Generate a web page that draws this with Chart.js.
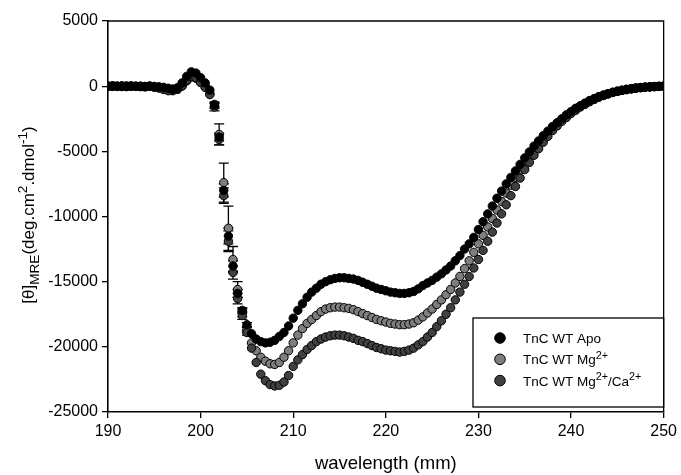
<!DOCTYPE html>
<html>
<head>
<meta charset="utf-8">
<script src="https://cdn.jsdelivr.net/npm/chart.js@4.4.1/dist/chart.umd.min.js"></script>
<style>
  html, body { margin: 0; padding: 0; background: #fff; }
  #wrap { position: relative; width: 681px; height: 475px; }
</style>
</head>
<body>
<div id="wrap"><canvas id="cd"></canvas></div>
<script>
// wavelength (nm), 0.5 nm steps
const wavelength = [
  190, 190.5, 191, 191.5, 192, 192.5, 193, 193.5, 194, 194.5, 195, 195.5, 196, 196.5, 197, 197.5,
  198, 198.5, 199, 199.5, 200, 200.5, 201, 201.5, 202, 202.5, 203, 203.5, 204, 204.5, 205, 205.5,
  206, 206.5, 207, 207.5, 208, 208.5, 209, 209.5, 210, 210.5, 211, 211.5, 212, 212.5, 213, 213.5,
  214, 214.5, 215, 215.5, 216, 216.5, 217, 217.5, 218, 218.5, 219, 219.5, 220, 220.5, 221, 221.5,
  222, 222.5, 223, 223.5, 224, 224.5, 225, 225.5, 226, 226.5, 227, 227.5, 228, 228.5, 229, 229.5,
  230, 230.5, 231, 231.5, 232, 232.5, 233, 233.5, 234, 234.5, 235, 235.5, 236, 236.5, 237, 237.5,
  238, 238.5, 239, 239.5, 240, 240.5, 241, 241.5, 242, 242.5, 243, 243.5, 244, 244.5, 245, 245.5,
  246, 246.5, 247, 247.5, 248, 248.5, 249, 249.5, 250
];

const apo = [
  0, 30, -20, 10, -30, 20, -10, 0, -40, 10, -20, -50, -90, -160, -220, -120,
  250, 750, 1100, 1000, 650, 250, -300, -1400, -3900, -8000, -11500, -13800, -15900, -17200, -18300, -19000,
  -19400, -19600, -19700, -19650, -19500, -19200, -18900, -18400, -17800, -17200, -16700, -16200, -15800, -15500, -15200, -15000,
  -14850, -14750, -14700, -14700, -14750, -14800, -14900, -15050, -15200, -15350, -15500, -15600, -15700, -15800, -15850, -15900,
  -15900, -15850, -15750, -15550, -15300, -15100, -14900, -14650, -14400, -14100, -13800, -13400, -13000, -12500, -12100, -11600,
  -11000, -10400, -9800, -9200, -8600, -8050, -7500, -7000, -6500, -6000, -5500, -5050, -4600, -4200, -3800, -3450,
  -3100, -2800, -2500, -2200, -1950, -1700, -1500, -1300, -1100, -950, -800, -680, -570, -480, -400, -330,
  -270, -210, -160, -120, -90, -60, -40, -20, 0
];

const mg = [
  -20, 10, 0, -30, 20, -10, 0, -40, -20, 0, -60, -100, -180, -280, -350, -250,
  0, 400, 700, 600, 300, -50, -600, -1600, -3700, -7400, -10900, -13300, -15600, -17400, -18700, -19700,
  -20300, -20800, -21100, -21300, -21350, -21200, -20800, -20300, -19700, -19100, -18600, -18200, -17900, -17600, -17300, -17100,
  -17000, -16950, -16950, -17000, -17050, -17150, -17300, -17450, -17600, -17750, -17900, -18000, -18100, -18200, -18250, -18300,
  -18300, -18250, -18150, -17950, -17700, -17400, -17100, -16750, -16400, -16000, -15600, -15100, -14600, -14000, -13400, -12750,
  -12100, -11450, -10800, -10150, -9500, -8850, -8200, -7600, -7000, -6450, -5900, -5400, -4900, -4450, -4000, -3600,
  -3200, -2900, -2600, -2300, -2000, -1750, -1550, -1350, -1150, -980, -820, -690, -570, -470, -380, -310,
  -240, -190, -140, -100, -70, -45, -25, -10, 0
];

const mgCa = [
  10, -20, 0, 20, -30, 0, -20, -10, -50, -20, -80, -150, -250, -350, -300, -200,
  50, 450, 750, 650, 300, -100, -650, -1500, -4100, -8400, -11900, -14300, -16300, -17600, -18900, -20100,
  -21200, -22100, -22600, -22900, -23000, -22950, -22700, -22200, -21500, -21000, -20600, -20200, -19900, -19600, -19400, -19250,
  -19150, -19100, -19100, -19150, -19250, -19350, -19500, -19600, -19750, -19900, -20050, -20150, -20250, -20300, -20350, -20400,
  -20350, -20250, -20100, -19850, -19600, -19250, -18900, -18450, -18000, -17500, -17000, -16400, -15800, -15200, -14600, -13950,
  -13300, -12600, -11900, -11200, -10500, -9800, -9100, -8400, -7700, -7050, -6400, -5850, -5300, -4800, -4300, -3850,
  -3400, -3050, -2700, -2400, -2100, -1850, -1600, -1400, -1200, -1020, -850, -720, -600, -490, -400, -320,
  -250, -195, -150, -110, -80, -50, -30, -15, 0
];

// standard deviations, only where the original shows error bars
const errWave  = [201.5, 202, 202.5, 203, 203.5, 204, 204.5, 205];
const errApo   = [200, 300, 500, 600, 400, 300, 200, 150];
const errMg    = [300, 800, 1500, 1700, 1000, 600, 300, 200];
const errMgCa  = [200, 400, 600, 800, 500, 400, 300, 200];

const xTicks = [190, 200, 210, 220, 230, 240, 250];
const yTicks = [5000, 0, -5000, -10000, -15000, -20000, -25000];

const FONT = '"Liberation Sans", Arial, sans-serif';

const series = [
  { label: 'TnC WT Apo', parts: [['TnC WT Apo', 0]], values: apo, err: errApo, fill: '#000000', order: 0 },
  { label: 'TnC WT Mg2+', parts: [['TnC WT Mg', 0], ['2+', 1]], values: mg, err: errMg, fill: '#7e7e7e', order: 2 },
  { label: 'TnC WT Mg2+/Ca2+', parts: [['TnC WT Mg', 0], ['2+', 1], ['/Ca', 0], ['2+', 1]], values: mgCa, err: errMgCa, fill: '#404040', order: 1 },
];

// runs of normal(0) / superscript(1) / subscript(-1) text
function drawRuns(ctx, parts, x, y, size, k) {
  let cx = x;
  parts.forEach(function ([txt, mode]) {
    const s = mode === 0 ? size : size * k;
    ctx.font = s + 'px ' + FONT;
    const dy = mode === 1 ? -size * 0.42 : (mode === -1 ? size * 0.3 : 0);
    ctx.fillText(txt, cx, y + dy);
    cx += ctx.measureText(txt).width;
  });
  return cx - x;
}
function runsWidth(ctx, parts, size, k) {
  let w = 0;
  parts.forEach(function ([txt, mode]) {
    ctx.font = (mode === 0 ? size : size * k) + 'px ' + FONT;
    w += ctx.measureText(txt).width;
  });
  return w;
}

const errorBars = {
  id: 'errorBars',
  beforeDatasetsDraw(chart) {
    const { ctx, scales: { x, y } } = chart;
    ctx.save();
    ctx.strokeStyle = '#000';
    ctx.lineWidth = 1.3;
    series.forEach(function (s) {
      errWave.forEach(function (w, i) {
        const k = wavelength.indexOf(w);
        if (k < 0) return;
        const px = x.getPixelForValue(w);
        const top = y.getPixelForValue(s.values[k] + s.err[i]);
        const bot = y.getPixelForValue(s.values[k] - s.err[i]);
        ctx.beginPath();
        ctx.moveTo(px, top); ctx.lineTo(px, bot);
        ctx.moveTo(px - 5, top); ctx.lineTo(px + 5, top);
        ctx.moveTo(px - 5, bot); ctx.lineTo(px + 5, bot);
        ctx.stroke();
      });
    });
    ctx.restore();
  },
};

const decor = {
  id: 'decor',
  afterDraw(chart) {
    const { ctx, chartArea: a } = chart;
    ctx.save();
    // frame top/right
    ctx.strokeStyle = '#000';
    ctx.lineWidth = 1.3;
    ctx.beginPath();
    ctx.moveTo(a.left, a.top); ctx.lineTo(a.right, a.top); ctx.lineTo(a.right, a.bottom);
    ctx.stroke();

    ctx.fillStyle = '#000';
    ctx.textBaseline = 'alphabetic';
    // x title
    ctx.font = '18.5px ' + FONT;
    ctx.textAlign = 'center';
    ctx.fillText('wavelength (mm)', (a.left + a.right) / 2, 469);

    // y title (rotated)
    ctx.textAlign = 'left';
    const yParts = [['[\u03B8]', 0], ['MRE', -1], ['(deg.cm', 0], ['2', 1], ['.dmol', 0], ['-1', 1], [')', 0]];
    const size = 17;
    const w = runsWidth(ctx, yParts, size, 0.8);
    ctx.translate(34, 215);
    ctx.rotate(-Math.PI / 2);
    drawRuns(ctx, yParts, -w / 2, 0, size, 0.8);
    ctx.setTransform(1, 0, 0, 1, 0, 0);

    // legend
    const lx = 473, ly = 318, lw = a.right - 473, lh = 89;
    ctx.fillStyle = '#fff';
    ctx.fillRect(lx, ly, lw, lh);
    ctx.strokeStyle = '#000';
    ctx.lineWidth = 1.3;
    ctx.strokeRect(lx, ly, lw, lh);
    series.forEach(function (s, i) {
      const cy = 338 + i * 21.3;
      ctx.beginPath();
      ctx.arc(500, cy, 5.3, 0, Math.PI * 2);
      ctx.fillStyle = s.fill;
      ctx.fill();
      ctx.lineWidth = 1;
      ctx.strokeStyle = '#000';
      ctx.stroke();
      ctx.fillStyle = '#000';
      drawRuns(ctx, s.parts, 523, cy + 5, 13.5, 0.8);
    });
    ctx.restore();
  },
};

new Chart(document.getElementById('cd'), {
  type: 'scatter',
  data: {
    datasets: series.map(function (s) {
      return {
        label: s.label,
        data: wavelength.map((w, i) => ({ x: w, y: s.values[i] })),
        backgroundColor: s.fill,
        borderColor: '#000',
        borderWidth: 1,
        pointRadius: 4.2,
        pointHoverRadius: 4.2,
        showLine: false,
        order: s.order,
      };
    }),
  },
  options: {
    responsive: true,
    maintainAspectRatio: false,
    animation: false,
    events: [],
    layout: { padding: { left: 0, right: 14, top: 21, bottom: 0 } },
    plugins: { legend: { display: false }, tooltip: { enabled: false } },
    scales: {
      x: {
        type: 'linear', min: 190, max: 250,
        afterBuildTicks: (sc) => { sc.ticks = xTicks.map((v) => ({ value: v })); },
        afterFit: (sc) => { sc.height = 63; },
        ticks: { color: '#000', font: { family: FONT, size: 16 }, padding: 4, maxRotation: 0 },
        grid: { drawOnChartArea: false, drawTicks: true, tickLength: 6, color: '#000', lineWidth: 1.3 },
        border: { display: true, color: '#000', width: 1.6 },
      },
      y: {
        type: 'linear', min: -25000, max: 5000,
        afterBuildTicks: (sc) => { sc.ticks = yTicks.map((v) => ({ value: v })); },
        afterFit: (sc) => { sc.width = 108; },
        ticks: { color: '#000', font: { family: FONT, size: 16 }, padding: 4, callback: (v) => String(v) },
        grid: { drawOnChartArea: false, drawTicks: true, tickLength: 6, color: '#000', lineWidth: 1.3 },
        border: { display: true, color: '#000', width: 1.6 },
      },
    },
  },
  plugins: [errorBars, decor],
});
</script>
</body>
</html>
